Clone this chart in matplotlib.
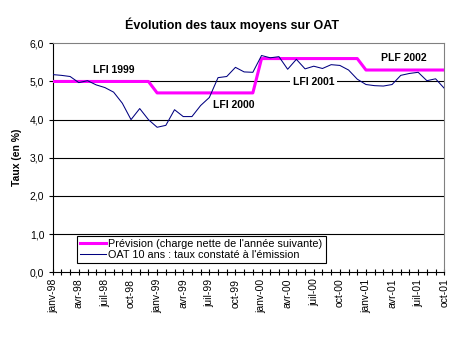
import matplotlib.pyplot as plt
from matplotlib.ticker import MultipleLocator, FixedLocator

plt.rcParams['font.family'] = ['Liberation Sans', 'DejaVu Sans']

# monthly series, janv-98 .. oct-01
oat = [5.18, 5.16, 5.13, 4.97, 5.02, 4.91, 4.84, 4.72, 4.43, 4.00, 4.29, 4.00,
       3.80, 3.85, 4.26, 4.08, 4.08, 4.37, 4.58, 5.10, 5.13, 5.37, 5.25, 5.24,
       5.68, 5.62, 5.65, 5.32, 5.58, 5.33, 5.40, 5.34, 5.44, 5.42, 5.30, 5.06,
       4.92, 4.89, 4.88, 4.92, 5.16, 5.21, 5.24, 5.02, 5.07, 4.82]
prevision = [5.0] * 12 + [4.7] * 12 + [5.6] * 12 + [5.3] * 10

tick_labels = ['janv-98', 'avr-98', 'juil-98', 'oct-98',
               'janv-99', 'avr-99', 'juil-99', 'oct-99',
               'janv-00', 'avr-00', 'juil-00', 'oct-00',
               'janv-01', 'avr-01', 'juil-01', 'oct-01']

months = list(range(len(oat)))

fig = plt.figure(figsize=(4.66, 3.38), dpi=100)
ax = fig.add_axes([0.1131, 0.1944, 0.8403, 0.6775])

ax.set_ylim(0, 6)
ax.set_xlim(0, 45)
for v in range(1, 6):
    ax.axhline(v, color='black', lw=0.8, zorder=1)

ax.plot(months, prevision, color='#ff00ff', lw=2.2, zorder=3,
        label="Prévision (charge nette de l'année suivante)")
ax.plot(months, oat, color='#000080', lw=0.75, zorder=4,
        label="OAT 10 ans : taux constaté à l'émission")

ax.xaxis.set_major_locator(FixedLocator(range(0, 46, 3)))
ax.xaxis.set_minor_locator(MultipleLocator(1))
ax.set_xticklabels(tick_labels, rotation=90, fontsize=7.5)
ax.tick_params(axis='x', which='both', direction='inout', length=5, width=0.8, pad=2)
ax.tick_params(axis='y', direction='out', length=3, width=0.8, pad=3, labelsize=7.5)
ax.set_yticks(range(7))
ax.set_yticklabels(['%d,0' % v for v in range(7)])

for s in ['top', 'right']:
    ax.spines[s].set_color('#808080')
    ax.spines[s].set_linewidth(0.8)
for s in ['left', 'bottom']:
    ax.spines[s].set_linewidth(0.8)

lbl = dict(ha='center', va='center', fontsize=7.5, fontweight='bold', zorder=5)
ax.text(7.05, 5.30, 'LFI 1999', **lbl)
ax.text(20.8, 4.38, 'LFI 2000', **lbl)
ax.text(30.0, 4.98, 'LFI 2001', bbox=dict(facecolor='white', edgecolor='none', pad=2), **lbl)
ax.text(40.3, 5.61, 'PLF 2002', **lbl)

ax.set_ylabel('Taux (en %)', fontsize=7.5, fontweight='bold', labelpad=6)
fig.suptitle('Évolution des taux moyens sur OAT', x=0.498, y=0.947, fontsize=9, fontweight='bold')

leg = ax.legend(loc='lower left', bbox_to_anchor=(0.062, 0.04), fontsize=7.8, frameon=True,
                fancybox=False, framealpha=1, edgecolor='black', handlelength=2.4,
                handletextpad=0.2, borderpad=0.3, labelspacing=0.1, borderaxespad=0)
leg.get_frame().set_linewidth(0.8)
leg.set_zorder(6)

fig.savefig('out.png', dpi=100)
